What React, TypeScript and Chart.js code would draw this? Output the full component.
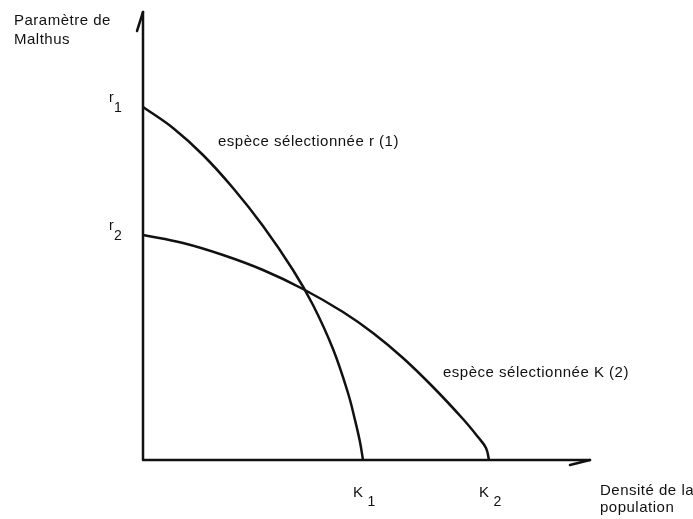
import React, { useEffect, useRef } from "react";
import { Chart, registerables } from "chart.js";

Chart.register(...registerables);

// Species r (1): Malthus parameter vs population density
const curve1X = [0, 30, 60, 90, 120, 150, 170, 190, 205, 212, 217, 220];
const curve1Y = [353, 332, 305, 272, 234, 190, 155, 111, 67, 40, 18, 0];

// Species K (2)
const curve2X = [0, 40, 80, 120, 160, 200, 230, 260, 290, 320, 335, 343, 346];
const curve2Y = [225, 217, 205, 190, 171, 148, 127, 102, 73, 41, 23, 12, 0];

const axisMaxX = 447;
const axisMaxY = 448;

const rTicks = [
  { value: 353, label: "r", sub: "1" },
  { value: 225, label: "r", sub: "2" },
];
const kTicks = [
  { value: 220, label: "K", sub: "1" },
  { value: 346, label: "K", sub: "2" },
];

const yAxisTitle = ["Paramètre de", "Malthus"];
const xAxisTitle = ["Densité de la", "population"];
const curveLabels = [
  { text: "espèce sélectionnée r (1)", x: 75, y: 314 },
  { text: "espèce sélectionnée K (2)", x: 300, y: 83 },
];

const INK = "#111";
const FONT = "'Liberation Sans', Arial, sans-serif";

const drawPlugin = {
  id: "schema",
  afterDatasetsDraw(chart: any) {
    const ctx = chart.ctx as CanvasRenderingContext2D;
    const { left, right, top, bottom } = chart.chartArea;
    const xs = chart.scales.x;
    const ys = chart.scales.y;
    ctx.save();
    ctx.strokeStyle = INK;
    ctx.fillStyle = INK;
    ctx.lineWidth = 2.5;
    ctx.lineCap = "round";
    // axes
    ctx.beginPath();
    ctx.moveTo(left, bottom);
    ctx.lineTo(left, top);
    ctx.moveTo(left, bottom);
    ctx.lineTo(right, bottom);
    ctx.stroke();
    // harpoons
    ctx.beginPath();
    ctx.moveTo(left, top);
    ctx.lineTo(left - 6, top + 19);
    ctx.moveTo(right, bottom);
    ctx.lineTo(right - 20, bottom + 5);
    ctx.stroke();

    ctx.textBaseline = "alphabetic";
    ctx.textAlign = "left";
    (ctx as any).letterSpacing = "0.5px";

    // axis titles
    ctx.font = `15px ${FONT}`;
    ctx.fillText(yAxisTitle[0], 14, 25);
    ctx.fillText(yAxisTitle[1], 14, 44);
    ctx.fillText(xAxisTitle[0], right + 10, 495);
    ctx.fillText(xAxisTitle[1], right + 10, 512);

    // curve labels
    for (const c of curveLabels) {
      ctx.fillText(c.text, xs.getPixelForValue(c.x), ys.getPixelForValue(c.y));
    }

    // r ticks
    for (const t of rTicks) {
      const py = ys.getPixelForValue(t.value);
      ctx.font = `14px ${FONT}`;
      ctx.fillText(t.label, left - 34, py - 5);
      ctx.fillText(t.sub, left - 29, py + 5);
    }
    // K ticks
    for (const t of kTicks) {
      const px = xs.getPixelForValue(t.value);
      ctx.font = `15px ${FONT}`;
      ctx.fillText(t.label, px - 10, 497);
      const w = ctx.measureText(t.label).width;
      ctx.font = `14px ${FONT}`;
      ctx.fillText(t.sub, px - 10 + w + 4, 506);
    }
    ctx.restore();
  },
};

export default function App() {
  const ref = useRef<HTMLCanvasElement | null>(null);
  useEffect(() => {
    if (!ref.current) return;
    const common = {
      borderColor: INK,
      borderWidth: 2.5,
      pointRadius: 0,
      tension: 0.4,
      fill: false,
      clip: false as any,
    };
    const chart = new Chart(ref.current, {
      type: "line",
      data: {
        datasets: [
          { label: "r", data: curve1X.map((x, i) => ({ x, y: curve1Y[i] })), ...common },
          { label: "K", data: curve2X.map((x, i) => ({ x, y: curve2Y[i] })), ...common },
        ],
      },
      options: {
        animation: false,
        responsive: false,
        devicePixelRatio: 1,
        layout: { padding: { left: 143, right: 103, top: 12, bottom: 59 } },
        scales: {
          x: { type: "linear", min: 0, max: axisMaxX, display: false },
          y: { type: "linear", min: 0, max: axisMaxY, display: false },
        },
        plugins: { legend: { display: false }, tooltip: { enabled: false } },
      },
      plugins: [drawPlugin],
    });
    return () => chart.destroy();
  }, []);
  return (
    <div style={{ position: "absolute", left: 0, top: 0, width: 693, height: 519, background: "#fff" }}>
      <canvas ref={ref} width={693} height={519} style={{ display: "block" }} />
    </div>
  );
}
